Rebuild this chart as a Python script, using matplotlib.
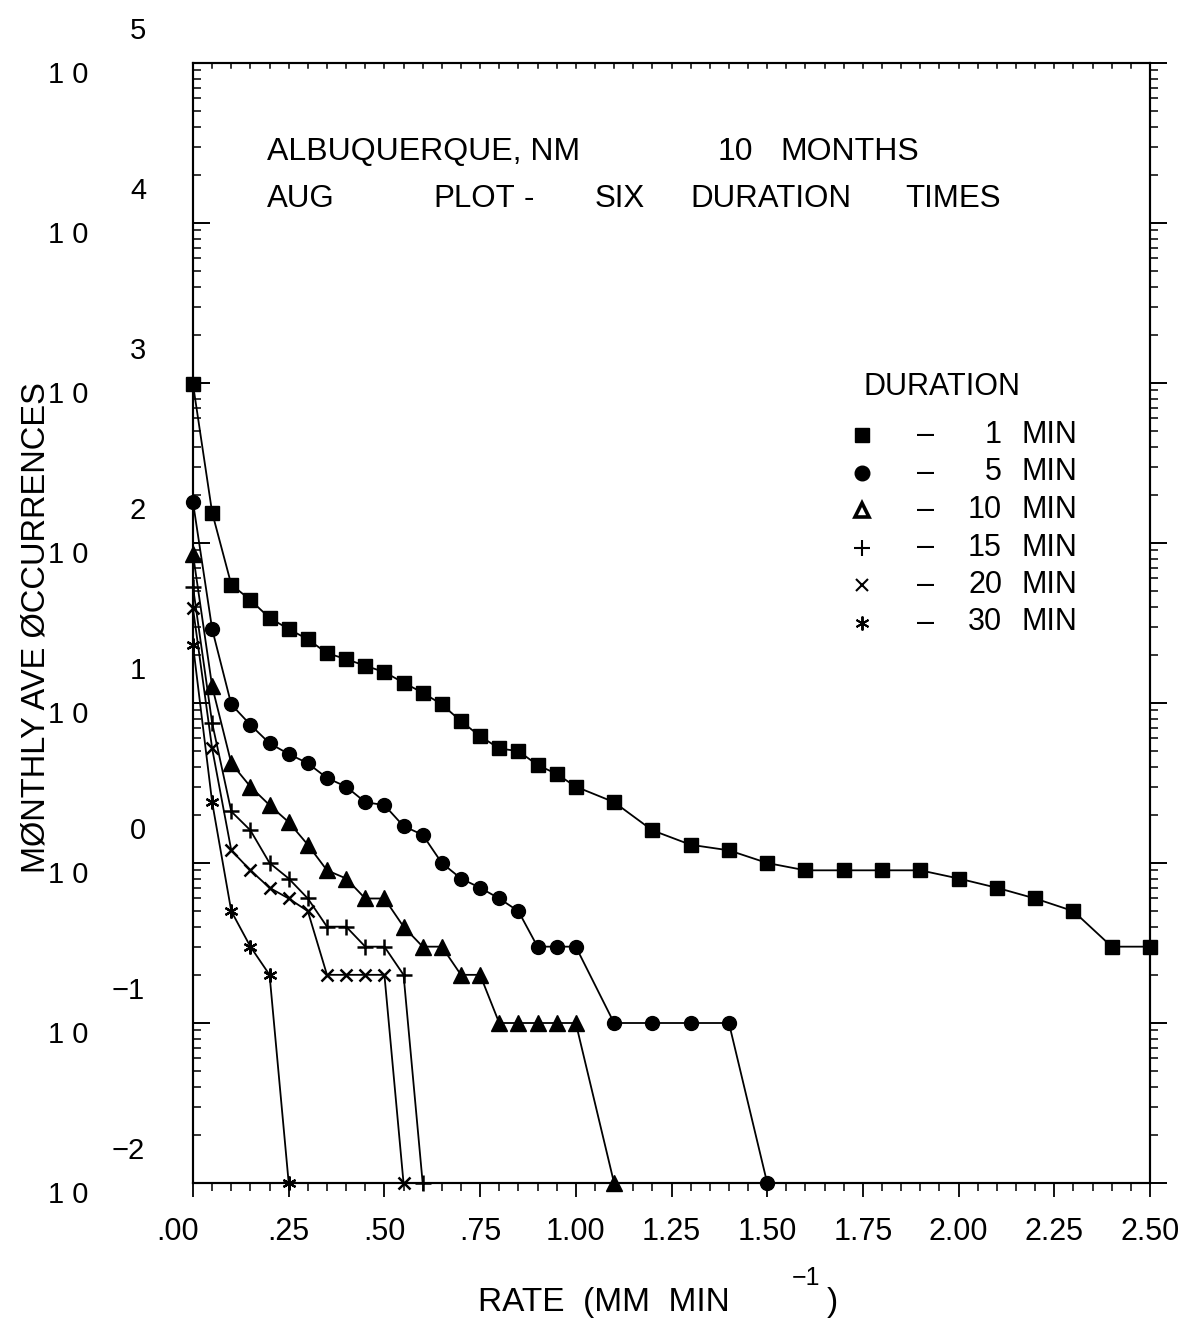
import numpy as np
import matplotlib
matplotlib.use("Agg")
import matplotlib.pyplot as plt
from matplotlib.ticker import FixedLocator, NullFormatter, LogLocator

# ---- data: monthly average occurrences at or above each rate (mm/min) ----
rate_a = [0.00, 0.05, 0.10, 0.15, 0.20, 0.25, 0.30, 0.35, 0.40, 0.45, 0.50,
          0.55, 0.60, 0.65, 0.70, 0.75, 0.80, 0.85, 0.90, 0.95, 1.00,
          1.10, 1.20, 1.30, 1.40, 1.50, 1.60, 1.70, 1.80, 1.90, 2.00,
          2.10, 2.20, 2.30, 2.40, 2.50]

occ_1min = [980, 155, 55, 44, 34, 29, 25, 20.5, 18.8, 17.1, 15.6,
            13.4, 11.6, 9.8, 7.7, 6.2, 5.2, 5.0, 4.1, 3.6, 3.0,
            2.4, 1.6, 1.3, 1.2, 1.0, 0.9, 0.9, 0.9, 0.9, 0.8,
            0.7, 0.6, 0.5, 0.3, 0.3]
occ_5min = [180, 29, 9.8, 7.3, 5.6, 4.8, 4.2, 3.4, 3.0, 2.4, 2.3,
            1.7, 1.5, 1.0, 0.8, 0.7, 0.6, 0.5, 0.3, 0.3, 0.3,
            0.1, 0.1, 0.1, 0.1, 0.0]
occ_10min = [85, 12.7, 4.2, 3.0, 2.3, 1.8, 1.3, 0.9, 0.8, 0.6, 0.6,
             0.4, 0.3, 0.3, 0.2, 0.2, 0.1, 0.1, 0.1, 0.1, 0.1, 0.0]
occ_15min = [53, 7.5, 2.1, 1.6, 1.0, 0.8, 0.6, 0.4, 0.4, 0.3, 0.3, 0.2, 0.0]
occ_20min = [39, 5.2, 1.2, 0.9, 0.7, 0.6, 0.5, 0.2, 0.2, 0.2, 0.2, 0.0]
occ_30min = [23, 2.4, 0.5, 0.3, 0.2, 0.0]

durations = ["1", "5", "10", "15", "20", "30"]
x_ticklabels = [".00", ".25", ".50", ".75", "1.00", "1.25", "1.50",
                "1.75", "2.00", "2.25", "2.50"]
y_exponents = [5, 4, 3, 2, 1, 0, -1, -2]

YMIN, YMAX = 1e-2, 1e5
FONT = ["Liberation Sans", "DejaVu Sans"]

W, H = 1184, 1318
fig = plt.figure(figsize=(W / 100, H / 100), dpi=100)
fig.patch.set_facecolor("white")

# axes frame in pixel terms
L, R, T, B = 193, 1150, 63, 1183
ax = fig.add_axes([L / W, 1 - B / H, (R - L) / W, (B - T) / H])
ax.set_yscale("log")
ax.set_xlim(0, 2.5)
ax.set_ylim(YMIN, YMAX)


def log_ticks(a):
    a.yaxis.set_major_locator(LogLocator(base=10, numticks=20))
    a.yaxis.set_minor_locator(LogLocator(base=10, subs=np.arange(2, 10),
                                         numticks=20))
    a.yaxis.set_major_formatter(NullFormatter())
    a.yaxis.set_minor_formatter(NullFormatter())


log_ticks(ax)
ax.xaxis.set_major_locator(FixedLocator(np.linspace(0, 2.5, 11)))
ax.xaxis.set_minor_locator(FixedLocator(np.linspace(0, 2.5, 51)))
ax.xaxis.set_major_formatter(NullFormatter())
# plotter-style ticks: everything hangs right / down
ax.tick_params(axis="y", which="major", direction="in", length=12, width=1.4,
               left=True, right=False)
ax.tick_params(axis="y", which="minor", direction="in", length=6, width=1.1,
               left=True, right=False)
ax.tick_params(axis="x", which="major", direction="out", length=10, width=1.3,
               top=False, bottom=True)
ax.tick_params(axis="x", which="minor", direction="out", length=6, width=1.1,
               top=False, bottom=True)

axr = ax.twinx()
axr.set_yscale("log")
axr.set_ylim(YMIN, YMAX)
log_ticks(axr)
axr.tick_params(axis="y", which="major", direction="out", length=12,
                width=1.4, left=False, right=True)
axr.tick_params(axis="y", which="minor", direction="out", length=6,
                width=1.1, left=False, right=True)
for a in (ax, axr):
    for s in a.spines.values():
        s.set_linewidth(1.5)

# short downward ticks along the top edge
for xv in np.linspace(0, 2.5, 51):
    ax.plot([xv, xv], [YMAX, 10 ** (5 - 5 / 160)], color="black", lw=1.1,
            clip_on=False, zorder=3)


def floor_zero(vals):
    return [v if v > 0 else YMIN for v in vals]


series = [
    (occ_1min, "s", 10.5, {}),
    (occ_5min, "o", 10, {}),
    (occ_10min, "^", 11.5, {}),
    (occ_15min, "+", 11, {"markeredgewidth": 1.8}),
    (occ_20min, "x", 8, {"markeredgewidth": 1.8}),
    (occ_30min, (6, 2, 0), 10, {"markeredgewidth": 1.6}),
]
for vals, mk, ms, kw in series:
    xs = rate_a[:len(vals)]
    ax.plot(xs, floor_zero(vals), color="black", lw=1.3, marker=mk,
            markersize=ms, markerfacecolor="black", markeredgecolor="black",
            clip_on=False, zorder=4, **kw)


# ---- axis labels drawn as text in figure pixels ----
def ftxt(x, y, s, size, ha="center", va="center", **kw):
    fig.text(x / W, 1 - y / H, s, fontsize=size, ha=ha, va=va,
             family=FONT, **kw)


for e in y_exponents:
    yp = 863 - 160 * e
    ftxt(68, yp + 12, "1 0", 21)
    if e >= 0:
        ftxt(138, yp - 32, str(e), 21)
    else:
        ftxt(128, yp - 32, "\u2212" + str(-e), 21)

for i, lab in enumerate(x_ticklabels):
    xp = L + (R - L) * i / 10
    if i == 0:
        xp = 178
    ftxt(xp, 1232, lab, 22)

ftxt(478, 1303, "RATE  (MM  MIN", 24, ha="left")
ftxt(806, 1278, "\u22121", 18)
ftxt(832, 1303, ")", 24)

ftxt(36, 628, "MØNTHLY AVE ØCCURRENCES", 23.5, rotation=90)

# ---- annotation block ----
ftxt(267, 152, "ALBUQUERQUE, NM", 23, ha="left")
ftxt(718, 152, "10", 23, ha="left")
ftxt(780, 152, "MONTHS", 23, ha="left")
ftxt(267, 199, "AUG", 22.5, ha="left")
ftxt(433, 199, "PLOT", 22.5, ha="left")
ftxt(524, 199, "-", 22.5, ha="left")
ftxt(595, 199, "SIX", 22.5, ha="left")
ftxt(690, 199, "DURATION", 22.5, ha="left")
ftxt(905, 199, "TIMES", 22.5, ha="left")

# ---- legend ----
ftxt(863, 387, "DURATION", 22, ha="left")
leg_markers = [("s", 10, {}),
               ("o", 10.5, {}),
               ("^", 10.5, {"markerfacecolor": "white",
                            "markeredgewidth": 2.6}),
               ("+", 11, {"markeredgewidth": 1.5}),
               ("x", 8, {"markeredgewidth": 1.5}),
               ((6, 2, 0), 10, {"markeredgewidth": 1.4})]
for i, (d, (mk, ms, kw)) in enumerate(zip(durations, leg_markers)):
    yp = 435 + 37.5 * i
    style = {"markerfacecolor": "black"}
    style.update(kw)
    fig.lines.append(plt.Line2D([862 / W], [1 - yp / H], marker=mk,
                                markersize=ms, color="black",
                                markeredgecolor="black",
                                transform=fig.transFigure, **style))
    ftxt(926, yp, "\u2013", 22)
    ftxt(1002, yp, d, 22, ha="right")
    ftxt(1022, yp, "MIN", 22, ha="left")

fig.savefig("out.png", dpi=100, facecolor="white")
